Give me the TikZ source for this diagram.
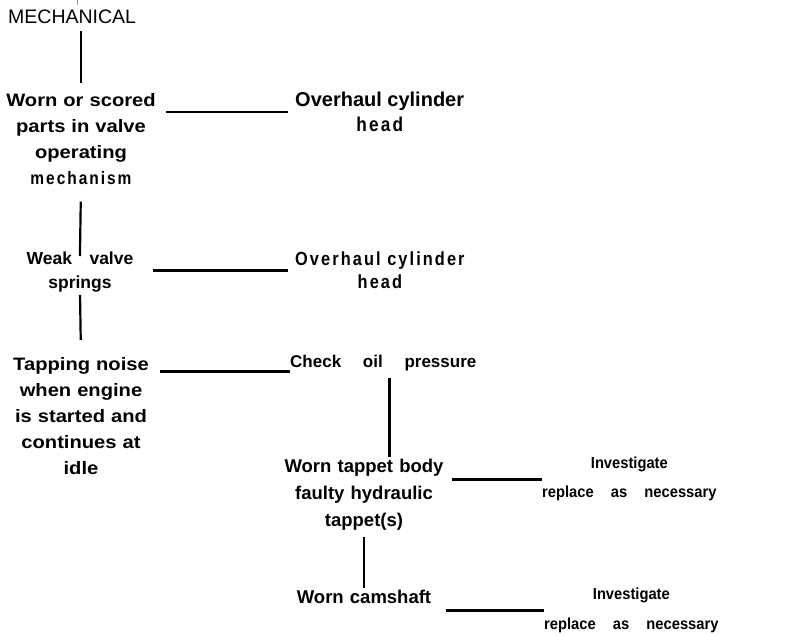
\documentclass[tikz,border=0pt]{standalone}
\usepackage{fontspec}
\usepackage{tikz}
\setmainfont{Liberation Sans}
\newfontfamily\widefont{Liberation Sans}[FakeStretch=1.12]
\newfontfamily\trackfont{Liberation Sans}[FakeStretch=0.86, LetterSpace=11]
\newfontfamily\spreadfont{Liberation Sans}[FakeStretch=0.92, WordSpace=4.2]
\newfontfamily\gapfont{Liberation Sans}[WordSpace=4.6]
\definecolor{stubgray}{RGB}{150,150,150}

\begin{document}
\begin{tikzpicture}[
    x=1pt, y=-1pt,
    fault/.style={inner sep=0pt, align=center, text width=158pt, font=\widefont\bfseries\fontsize{18}{26}\selectfont},
    probe/.style={inner sep=0pt, align=center, text width=176pt, font=\bfseries\fontsize{18.5}{27}\selectfont},
    remedy/.style={inner sep=0pt, align=center, font=\bfseries\fontsize{20}{25}\selectfont},
    link/.style={line width=2.8pt},
    drop/.style={line width=2.2pt}
]
    \useasboundingbox (0,0) rectangle (788,636);

    % Symptoms, left column
    \node[anchor=north west, inner sep=0pt, font=\fontsize{19.5}{20}\selectfont] (mech) at (8,10) {MECHANICAL};
    \node[fault, anchor=north] (scored) at (81,93) {Worn or scored\\parts in valve\\operating\\{\trackfont mechanism}};
    \node[fault, anchor=north, text width=146pt, font=\bfseries\fontsize{17.5}{24}\selectfont] (weak) at (80,252) {Weak\quad valve\\springs};
    \node[fault, anchor=north] (noise) at (81,357) {Tapping noise\\when engine\\is started and\\continues at\\idle};

    % Causes under the oil check
    \node[probe, anchor=north] (tappet) at (364,459) {Worn tappet body\\faulty hydraulic\\tappet(s)};
    \node[probe, anchor=north] (camshaft) at (364,590) {Worn camshaft};

    % Remedies
    \node[remedy, anchor=north west] (head1) at (295,92) {Overhaul cylinder\\{\trackfont head}};
    \node[remedy, anchor=north west, font=\trackfont\bfseries\fontsize{19}{23}\selectfont] (head2) at (295,252) {Overhaul cylinder\\head};
    \node[remedy, anchor=north west, font=\gapfont\bfseries\fontsize{17}{20}\selectfont] (oil) at (290,355) {Check oil pressure};
    \node[remedy, anchor=north west, font=\spreadfont\bfseries\fontsize{16}{29}\selectfont] (fix1) at (542,457) {Investigate\\replace as necessary};
    \node[remedy, anchor=north west, font=\spreadfont\bfseries\fontsize{16}{30}\selectfont] (fix2) at (544,588) {Investigate\\replace as necessary};

    % Horizontal links
    \draw[link, shorten <=6pt, shorten >=7pt] (head1.west -| scored.east) -- (head1.west);
    \draw[link, shorten >=7pt] (head2.west -| weak.east) -- (head2.west);
    \draw[link] (oil.south west -| noise.east) -- (oil.south west);
    \draw[link] (fix1.west -| tappet.east) -- (fix1.west);
    \draw[link, shorten <=-6pt] (fix2.west -| camshaft.east) -- (fix2.west);

    % Vertical drops
    \coordinate (feed) at (77,0);
    \draw[stubgray, line width=0.8pt, shorten >=5pt] (feed) -- (feed |- mech.north);
    \draw[drop, shorten <=7pt, shorten >=10pt] (scored.north |- mech.south) -- (scored.north);
    \draw[drop, shorten <=17pt, shorten >=-4pt] (scored.south) -- (weak.north);
    \draw[drop, shorten <=2pt, shorten >=17pt] (weak.south) -- (noise.north);
    \draw[link, shorten <=7pt, shorten >=2pt] ([xshift=6pt]oil.south) -- ([xshift=6pt]oil.south |- tappet.north);
    \draw[drop, shorten <=6pt, shorten >=2pt] (tappet.south) -- (camshaft.north);
\end{tikzpicture}
\end{document}
